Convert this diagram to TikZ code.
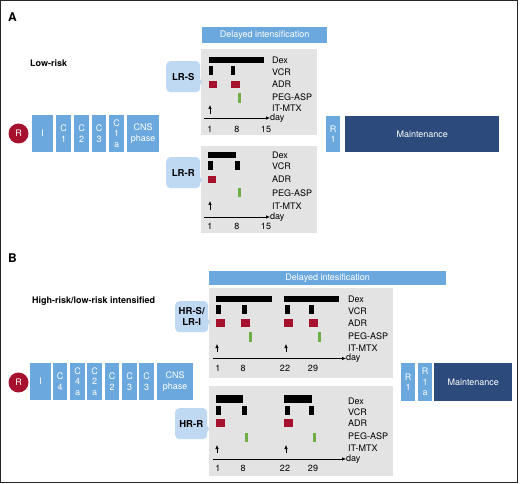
\documentclass[tikz,border=0pt]{standalone}
\usepackage{fontspec}
\setmainfont{TeX Gyre Heros}
\usetikzlibrary{arrows.meta}

\definecolor{boxblue}{HTML}{6BA8DE}
\definecolor{bubblue}{HTML}{C0D9F2}
\definecolor{panelgray}{HTML}{E3E3E3}
\definecolor{adrred}{HTML}{A6122E}
\definecolor{peggreen}{HTML}{6BAF45}
\definecolor{navy}{HTML}{2C4A7B}

\tikzset{
  phase/.style={fill=boxblue, text=white, anchor=north west, inner sep=0pt,
    align=center, font=\fontsize{9}{10.5}\selectfont},
  maint/.style={fill=navy, text=white, anchor=north west, inner sep=0pt,
    font=\fontsize{9}{10}\selectfont},
  rcirc/.style={circle, fill=adrred, text=white, inner sep=0pt,
    minimum size=20pt, font=\fontsize{9}{10}\selectfont},
  header/.style={fill=boxblue, text=white, anchor=north west, inner sep=0pt,
    font=\fontsize{9}{10}\selectfont},
  bubble/.style={fill=bubblue, rounded corners=4pt, anchor=north west,
    inner sep=0pt, align=center, font=\bfseries\fontsize{9.5}{11}\selectfont},
  panel/.style={fill=panelgray, anchor=north west, inner sep=0pt},
  drug/.style={anchor=west, inner sep=0pt, font=\fontsize{9}{9}\selectfont},
  tick/.style={inner sep=0pt, font=\fontsize{9}{9}\selectfont},
  title/.style={anchor=west, inner sep=0pt, font=\bfseries\fontsize{9}{10}\selectfont},
  axis/.style={line width=0.6pt, -{Latex[length=4pt,width=3.5pt]}},
  mtx/.style={line width=0.6pt, -{Latex[length=4pt,width=3.5pt]}}
}

\begin{document}
\begin{tikzpicture}[x=1pt,y=-1pt]
  \useasboundingbox (0,0) rectangle (520,484);
  \draw[line width=0.8pt, black!85] (0.5,0.5) rectangle (517,482.5);

  % ---------------- Panel A ----------------
  \node[anchor=west, inner sep=0pt, font=\bfseries\fontsize{12}{12}\selectfont] (labA) at (8,17) {A};
  \node[title] (lowrisk) at (30,63) {Low-risk};

  % induction and consolidation blocks
  \node[rcirc] (rA) at (18.5,133.5) {R};
  \node[phase, minimum width=21pt, minimum height=37pt] (iA) at (32,115) {I};
  \node[phase, minimum width=15pt, minimum height=37pt] (c1A) at (56,115) {C\\1};
  \node[phase, minimum width=15pt, minimum height=37pt] (c2A) at (74,115) {C\\2};
  \node[phase, minimum width=14pt, minimum height=37pt] (c3A) at (92,115) {C\\3};
  \node[phase, minimum width=15pt, minimum height=37pt] (c1aA) at (109,115) {C\\1\\a};
  \node[phase, minimum width=32pt, minimum height=37pt] (cnsA) at (127,115) {CNS\\phase};

  % delayed intensification
  \node[header, minimum width=125pt, minimum height=16pt] (diA) at (202,27) {Delayed intensification};
  \node[panel, minimum width=116pt, minimum height=86pt] (lrsP) at (201,49) {};
  \node[panel, minimum width=116pt, minimum height=87pt] (lrrP) at (201,146) {};

  \node[bubble, minimum width=34pt, minimum height=31pt] (lrs) at (166,61) {LR-S};
  \fill[bubblue] (199,78) -- (202.5,82) -- (199,86) -- cycle;
  \node[bubble, minimum width=34pt, minimum height=31pt] (lrr) at (166,157) {LR-R};
  \fill[bubblue] (199,176) -- (202.5,180) -- (199,184) -- cycle;

  % LR-S schedule
  \fill (209,57) rectangle (264,63);
  \fill (209,66) rectangle (213,75);
  \fill (231,66) rectangle (235,75);
  \fill[adrred] (209,81) rectangle (217,88);
  \fill[adrred] (231,81) rectangle (240,88);
  \fill[peggreen] (238,93) rectangle (241,103);
  \draw[mtx] (210,114) -- (210,105);
  \node[drug] (dayS) at (270,118) {day};
  \draw[axis] (204,118) -- (dayS.west);
  \node[drug] (dexS) at (272,60) {Dex};
  \node[drug] (vcrS) at (272,72) {VCR};
  \node[drug] (adrS) at (272,84) {ADR};
  \node[drug] (pegS) at (272,97) {PEG-ASP};
  \node[drug] (mtxS) at (272,108.5) {IT-MTX};
  \node[tick] (t1S) at (210,129) {1};
  \node[tick] (t8S) at (237,129) {8};
  \node[tick] (t15S) at (266,129) {15};

  % LR-R schedule
  \fill (208,152) rectangle (236,158);
  \fill (208,161) rectangle (213,170);
  \fill (235,161) rectangle (240,170);
  \fill[adrred] (208,176) rectangle (216,183);
  \fill[peggreen] (238,188) rectangle (241,197);
  \draw[mtx] (210,210) -- (210,201);
  \node[drug] (dayR) at (270,217) {day};
  \draw[axis] (204,217) -- (dayR.west);
  \node[drug] (dexR) at (272,155) {Dex};
  \node[drug] (vcrR) at (272,166) {VCR};
  \node[drug] (adrR) at (272,179) {ADR};
  \node[drug] (pegR) at (272,193) {PEG-ASP};
  \node[drug] (mtxR) at (272,206) {IT-MTX};
  \node[tick] (t1R) at (210,226.5) {1};
  \node[tick] (t8R) at (237,226.5) {8};
  \node[tick] (t15R) at (266,226.5) {15};

  % reinduction and maintenance
  \node[phase, minimum width=14pt, minimum height=36pt] (r1A) at (326,116) {R\\1};
  \node[maint, minimum width=154pt, minimum height=36pt] (mA) at (345,116) {Maintenance};

  % ---------------- Panel B ----------------
  \node[anchor=west, inner sep=0pt, font=\bfseries\fontsize{12}{12}\selectfont] (labB) at (8,258) {B};
  \node[title] (highrisk) at (32,301) {High-risk/low-risk intensified};

  % induction and consolidation blocks
  \node[rcirc] (rB) at (18.5,382.5) {R};
  \node[phase, minimum width=21pt, minimum height=37pt] (iB) at (30,363) {I};
  \node[phase, minimum width=14pt, minimum height=37pt] (c4B) at (53,363) {C\\4};
  \node[phase, minimum width=15pt, minimum height=37pt] (c4aB) at (70,363) {C\\4\\a};
  \node[phase, minimum width=15pt, minimum height=37pt] (c2aB) at (87,363) {C\\2\\a};
  \node[phase, minimum width=14pt, minimum height=37pt] (c2B) at (105,363) {C\\2};
  \node[phase, minimum width=15pt, minimum height=37pt] (c3B) at (122,363) {C\\3};
  \node[phase, minimum width=15pt, minimum height=37pt] (c3bB) at (139,363) {C\\3};
  \node[phase, minimum width=36pt, minimum height=37pt] (cnsB) at (157,363) {CNS\\phase};

  % delayed intensification
  \node[header, minimum width=237pt, minimum height=14pt] (diB) at (209,271) {Delayed intesification};
  \node[panel, minimum width=184pt, minimum height=90pt] (hrsP) at (209,288) {};
  \node[panel, minimum width=184pt, minimum height=90pt] (hrrP) at (209,386) {};

  \node[bubble, minimum width=33pt, minimum height=31pt] (hrs) at (175,301) {HR-S/\\LR-I};
  \fill[bubblue] (207,318) -- (210.5,322) -- (207,326) -- cycle;
  \node[bubble, minimum width=32pt, minimum height=31pt] (hrr) at (175,408) {HR-R};
  \fill[bubblue] (206,425) -- (209.5,429) -- (206,433) -- cycle;

  % HR-S/LR-I schedule
  \fill (216,296) rectangle (272,302);
  \fill (284,296) rectangle (339,302);
  \fill (216,305) rectangle (221,314);
  \fill (242,305) rectangle (247,314);
  \fill (285,305) rectangle (290,314);
  \fill (309,305) rectangle (314,314);
  \fill[adrred] (216,319) rectangle (225,327);
  \fill[adrred] (241,319) rectangle (250,327);
  \fill[adrred] (284,319) rectangle (293,327);
  \fill[adrred] (309,319) rectangle (318,327);
  \fill[peggreen] (249,332) rectangle (252,342);
  \fill[peggreen] (318,332) rectangle (321,342);
  \draw[mtx] (217,352) -- (217,344);
  \draw[mtx] (286,352) -- (286,344);
  \node[drug] (dayHS) at (346,358.5) {day};
  \draw[axis] (213,358.5) -- (dayHS.west);
  \node[drug] (dexHS) at (348,299) {Dex};
  \node[drug] (vcrHS) at (348,311) {VCR};
  \node[drug] (adrHS) at (348,323) {ADR};
  \node[drug] (pegHS) at (348,336) {PEG-ASP};
  \node[drug] (mtxHS) at (348,348) {IT-MTX};
  \node[tick] (t1HS) at (218,368) {1};
  \node[tick] (t8HS) at (243,368) {8};
  \node[tick] (t22HS) at (285,368) {22};
  \node[tick] (t29HS) at (313,368) {29};

  % HR-R schedule
  \fill (216,395) rectangle (243,403);
  \fill (284,395) rectangle (312,403);
  \fill (216,406) rectangle (221,415);
  \fill (242,406) rectangle (247,415);
  \fill (285,406) rectangle (290,415);
  \fill (309,406) rectangle (314,415);
  \fill[adrred] (216,419) rectangle (225,427);
  \fill[adrred] (284,419) rectangle (293,427);
  \fill[peggreen] (245,433) rectangle (248,442);
  \fill[peggreen] (313,433) rectangle (316,442);
  \draw[mtx] (217,453) -- (217,445);
  \draw[mtx] (286,453) -- (286,445);
  \node[drug] (dayHR) at (346,459) {day};
  \draw[axis] (213,459) -- (dayHR.west);
  \node[drug] (dexHR) at (348,401) {Dex};
  \node[drug] (vcrHR) at (348,412) {VCR};
  \node[drug] (adrHR) at (348,423) {ADR};
  \node[drug] (pegHR) at (348,436) {PEG-ASP};
  \node[drug] (mtxHR) at (348,448) {IT-MTX};
  \node[tick] (t1HR) at (218,468) {1};
  \node[tick] (t8HR) at (243,468) {8};
  \node[tick] (t22HR) at (285,468) {22};
  \node[tick] (t29HR) at (313,468) {29};

  % reinduction and maintenance
  \node[phase, minimum width=14pt, minimum height=38pt] (r1B) at (401,363) {R\\1};
  \node[phase, minimum width=14pt, minimum height=38pt] (r1aB) at (418,363) {R\\1\\a};
  \node[maint, minimum width=78pt, minimum height=38pt] (mB) at (434,363) {Maintenance};
\end{tikzpicture}
\end{document}
